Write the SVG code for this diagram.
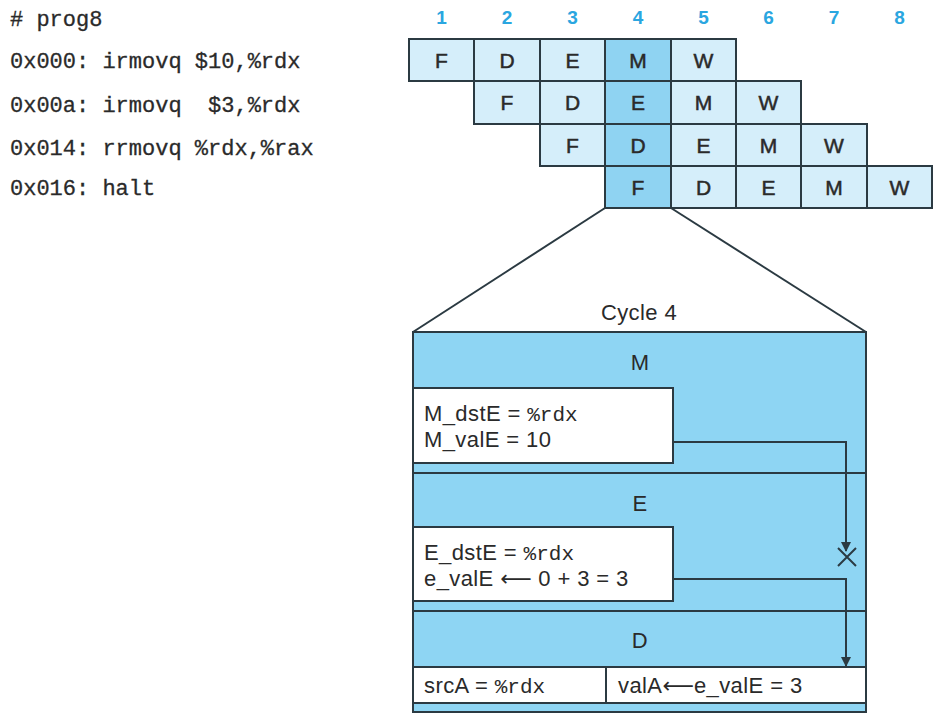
<svg xmlns="http://www.w3.org/2000/svg" width="937" height="717" viewBox="0 0 937 717">
<defs>
<style>
.code{font-family:"Liberation Mono","DejaVu Sans Mono",monospace;font-size:22px;fill:#2a2a2a;stroke:#2a2a2a;stroke-width:0.3;white-space:pre}
.num{font-family:"Liberation Sans",Arial,sans-serif;font-size:19px;font-weight:bold;fill:#2aa6e0;text-anchor:middle}
.cell{fill:#d5eefa;stroke:#2b3a42;stroke-width:2}
.cur{fill:#8fd3f2;stroke:#2b3a42;stroke-width:2}
.lt{font-family:"Liberation Sans",Arial,sans-serif;font-size:21px;fill:#2a2a2a;stroke:#2a2a2a;stroke-width:0.5;text-anchor:middle}
.lbl{font-family:"Liberation Sans",Arial,sans-serif;font-size:22px;fill:#2a2a2a;letter-spacing:0.4px}
.mid{text-anchor:middle}
.tt{font-family:"Liberation Mono","DejaVu Sans Mono",monospace;font-size:21px;letter-spacing:0}
.ar{font-family:"DejaVu Sans","Noto Sans",sans-serif;font-size:22px;letter-spacing:0}
.ln{fill:none;stroke:#2b3a42;stroke-width:2}
.box{fill:#8ed5f3;stroke:#2b3a42;stroke-width:2}
.wb{fill:#ffffff;stroke:#2b3a42;stroke-width:2}
</style>
<marker id="ah" viewBox="0 0 10 10" refX="9" refY="5" markerWidth="5" markerHeight="5" orient="auto" markerUnits="strokeWidth">
<path d="M0,0 L10,5 L0,10 z" fill="#2b3a42"/>
</marker>
</defs>
<rect width="937" height="717" fill="#ffffff"/>

<g id="program">
<text class="code" x="10" y="26" xml:space="preserve"># prog8</text>
<text class="code" x="10" y="68" xml:space="preserve">0x000: irmovq $10,%rdx</text>
<text class="code" x="10" y="112" xml:space="preserve">0x00a: irmovq  $3,%rdx</text>
<text class="code" x="10" y="155" xml:space="preserve">0x014: rrmovq %rdx,%rax</text>
<text class="code" x="10" y="195" xml:space="preserve">0x016: halt</text>
</g>

<g id="cycle-numbers">
<text class="num" x="441.5" y="24">1</text>
<text class="num" x="507" y="24">2</text>
<text class="num" x="572.5" y="24">3</text>
<text class="num" x="638" y="24">4</text>
<text class="num" x="703.5" y="24">5</text>
<text class="num" x="768.5" y="24">6</text>
<text class="num" x="834" y="24">7</text>
<text class="num" x="899.5" y="24">8</text>
</g>

<g id="instr1">
<rect class="cell" x="409" y="39" width="65" height="42"/>
<rect class="cell" x="474" y="39" width="66" height="42"/>
<rect class="cell" x="540" y="39" width="65" height="42"/>
<rect class="cur" x="605" y="39" width="66" height="42"/>
<rect class="cell" x="671" y="39" width="65" height="42"/>
<text class="lt" x="441.5" y="67.5">F</text>
<text class="lt" x="507" y="67.5">D</text>
<text class="lt" x="572.5" y="67.5">E</text>
<text class="lt" x="638" y="67.5">M</text>
<text class="lt" x="703.5" y="67.5">W</text>
</g>
<g id="instr2">
<rect class="cell" x="474" y="81" width="66" height="43"/>
<rect class="cell" x="540" y="81" width="65" height="43"/>
<rect class="cur" x="605" y="81" width="66" height="43"/>
<rect class="cell" x="671" y="81" width="65" height="43"/>
<rect class="cell" x="736" y="81" width="65" height="43"/>
<text class="lt" x="507" y="110">F</text>
<text class="lt" x="572.5" y="110">D</text>
<text class="lt" x="638" y="110">E</text>
<text class="lt" x="703.5" y="110">M</text>
<text class="lt" x="768.5" y="110">W</text>
</g>
<g id="instr3">
<rect class="cell" x="540" y="124" width="65" height="42"/>
<rect class="cur" x="605" y="124" width="66" height="42"/>
<rect class="cell" x="671" y="124" width="65" height="42"/>
<rect class="cell" x="736" y="124" width="65" height="42"/>
<rect class="cell" x="801" y="124" width="66" height="42"/>
<text class="lt" x="572.5" y="152.5">F</text>
<text class="lt" x="638" y="152.5">D</text>
<text class="lt" x="703.5" y="152.5">E</text>
<text class="lt" x="768.5" y="152.5">M</text>
<text class="lt" x="834" y="152.5">W</text>
</g>
<g id="instr4">
<rect class="cur" x="605" y="166" width="66" height="42"/>
<rect class="cell" x="671" y="166" width="65" height="42"/>
<rect class="cell" x="736" y="166" width="65" height="42"/>
<rect class="cell" x="801" y="166" width="66" height="42"/>
<rect class="cell" x="867" y="166" width="65" height="42"/>
<text class="lt" x="638" y="194.5">F</text>
<text class="lt" x="703.5" y="194.5">D</text>
<text class="lt" x="768.5" y="194.5">E</text>
<text class="lt" x="834" y="194.5">M</text>
<text class="lt" x="899.5" y="194.5">W</text>
</g>

<g id="zoom-lines">
<line class="ln" x1="605" y1="208" x2="413" y2="332"/>
<line class="ln" x1="671" y1="208" x2="866" y2="332"/>
<text class="lbl mid" x="639" y="320">Cycle 4</text>
</g>

<g id="cycle4">
<rect class="box" x="413" y="332" width="453" height="380"/>
<line class="ln" x1="413" y1="473" x2="866" y2="473"/>
<line class="ln" x1="413" y1="611" x2="866" y2="611"/>
</g>

<g id="stage-M">
<text class="lbl mid" x="640" y="370">M</text>
<rect class="wb" x="413" y="388" width="260" height="75"/>
<text class="lbl" x="424" y="421">M_dstE = <tspan class="tt">%rdx</tspan></text>
<text class="lbl" x="424" y="447">M_valE = 10</text>
</g>

<g id="stage-E">
<text class="lbl mid" x="640" y="511">E</text>
<rect class="wb" x="413" y="527" width="260" height="74"/>
<text class="lbl" x="424" y="560">E_dstE = <tspan class="tt">%rdx</tspan></text>
<text class="lbl" x="424" y="586">e_valE <tspan class="ar">⟵</tspan> 0 + 3 = 3</text>
</g>

<g id="stage-D">
<text class="lbl mid" x="640" y="648">D</text>
<rect class="wb" x="413" y="667" width="453" height="36"/>
<line class="ln" x1="606" y1="667" x2="606" y2="703"/>
<text class="lbl" x="424" y="693">srcA = <tspan class="tt">%rdx</tspan></text>
<text class="lbl" x="618" y="693">valA<tspan class="ar">⟵</tspan>e_valE = 3</text>
</g>

<g id="connectors">
<path class="ln" d="M673,442 H846 V551" marker-end="url(#ah)"/>
<path class="ln" d="M838,548 L856,566 M856,548 L838,566"/>
<path class="ln" d="M673,579 H846 V666" marker-end="url(#ah)"/>
</g>
</svg>
